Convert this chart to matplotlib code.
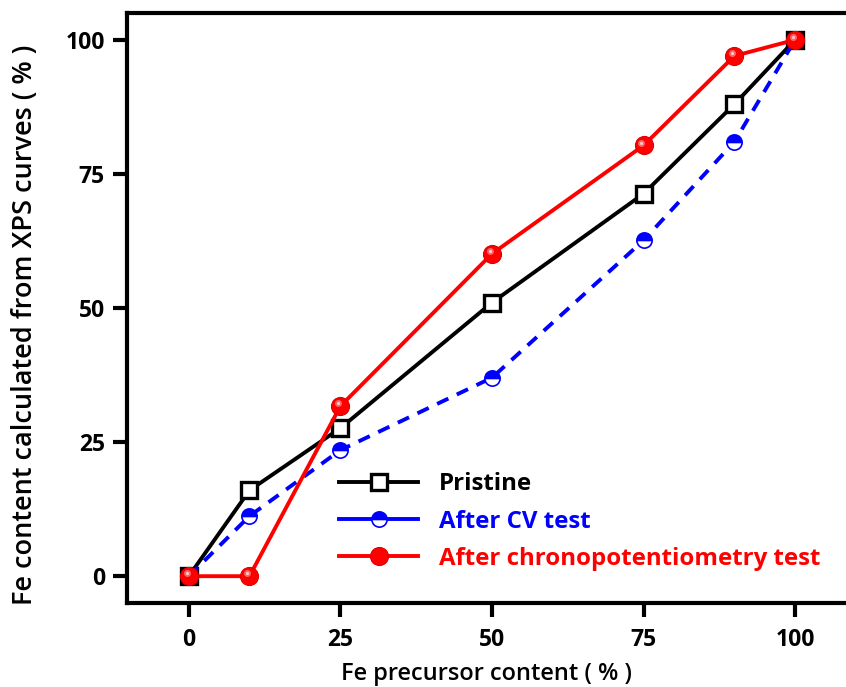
import matplotlib
matplotlib.use("Agg")
import matplotlib.pyplot as plt
import matplotlib.transforms as mtransforms
from matplotlib.lines import Line2D

x_vals = [0, 10, 25, 50, 75, 90, 100]
pristine = [0, 16.0, 27.6, 51.0, 71.3, 88.0, 100]
after_cv = [0, 11.2, 23.5, 37.0, 62.6, 81.0, 100]
after_chrono = [0, 0, 31.7, 60.1, 80.3, 97.0, 100]
x_ticks = [0, 25, 50, 75, 100]
y_ticks = [0, 25, 50, 75, 100]
labels = ["Pristine", "After CV test", "After chronopotentiometry test"]

plt.rcParams['font.family'] = ['Open Sans', 'DejaVu Sans']

fig = plt.figure(figsize=(8.46, 6.87), dpi=100)
ax = fig.add_axes([127/846, 1-603/687, (846-127)/846, (603-13)/687])

lw = 2.8
blue = '#0000ff'
red = '#ff0000'
ax.plot(x_vals, pristine, color='black', lw=lw, marker='s', ms=11.5,
        mfc='white', mec='black', mew=2.4, zorder=3)
ax.plot(x_vals, after_cv, color=blue, lw=lw, ls=(0, (3.2, 2.4)), marker='o', ms=11,
        fillstyle='top', mfc=blue, mfcalt='white', mec=blue, mew=1.2, zorder=4)
ax.plot(x_vals, after_chrono, color=red, lw=lw, marker='o', ms=13,
        mfc=red, mec='#e00000', mew=0.8, zorder=5)
# glossy highlight on the red spheres
hl = ax.transData + mtransforms.ScaledTranslation(-1.5/72, 2/72, fig.dpi_scale_trans)
ax.plot(x_vals, after_chrono, ls='none', marker='o', ms=5, mfc='#ff8080', mec='none',
        alpha=0.8, transform=hl, zorder=6)
ax.plot(x_vals, after_chrono, ls='none', marker='o', ms=2.2, mfc='#ffdada', mec='none',
        alpha=0.9, transform=hl, zorder=7)

ax.set_xlim(-10.2, 108.4)
ax.set_ylim(-5.0, 105.0)
ax.set_xticks(x_ticks)
ax.set_yticks(y_ticks)
ax.set_xticklabels([str(v) for v in x_ticks])
ax.set_yticklabels([str(v) for v in y_ticks])

for s in ax.spines.values():
    s.set_linewidth(3.0)
ax.spines['right'].set_visible(False)

ax.tick_params(axis='both', direction='out', length=10, width=3.0, labelsize=16.5)
ax.tick_params(axis='x', pad=8)
ax.tick_params(axis='y', pad=6)
for lab in ax.get_xticklabels() + ax.get_yticklabels():
    lab.set_fontweight('bold')

ax.set_xlabel('Fe precursor content ( % )', fontsize=17, fontweight='semibold', labelpad=7)
ax.set_ylabel('Fe content calculated from XPS curves ( % )', fontsize=19.5, fontweight='semibold')
ax.yaxis.set_label_coords(-0.123, 0.471)

handles = [
    Line2D([], [], color='black', lw=lw, marker='s', ms=11.5, mfc='white', mec='black', mew=2.4),
    Line2D([], [], color=blue, lw=lw, marker='o', ms=11, fillstyle='top', mfc=blue,
           mfcalt='white', mec=blue, mew=1.2),
    Line2D([], [], color=red, lw=lw, marker='o', ms=13, mfc=red, mec='#e00000', mew=0.8),
]
leg = ax.legend(handles, labels, loc='lower left', bbox_to_anchor=(0.265, 0.018), frameon=False,
                handlelength=3.3, handletextpad=0.85, labelspacing=0.55,
                prop={'weight': 'bold', 'size': 17.3})
for txt, c in zip(leg.get_texts(), ['black', blue, red]):
    txt.set_color(c)

fig.savefig('out.png', dpi=100)
